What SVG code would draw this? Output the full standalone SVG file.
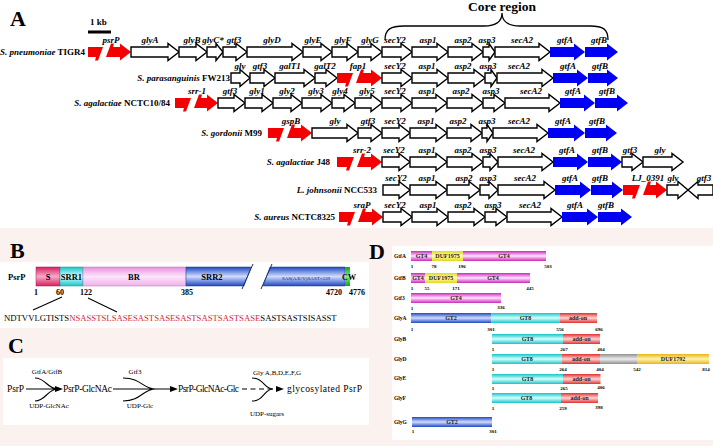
<svg xmlns="http://www.w3.org/2000/svg" width="713" height="446" viewBox="0 0 713 446">
<defs>
<linearGradient id="gMag" x1="0" y1="0" x2="0" y2="1"><stop offset="0" stop-color="#c82ab8"/><stop offset="0.35" stop-color="#f2a8ee"/><stop offset="0.5" stop-color="#fde6fb"/><stop offset="0.65" stop-color="#f2a8ee"/><stop offset="1" stop-color="#c82ab8"/></linearGradient>
<linearGradient id="gYel" x1="0" y1="0" x2="0" y2="1"><stop offset="0" stop-color="#e0d820"/><stop offset="0.5" stop-color="#ffffa8"/><stop offset="1" stop-color="#e0d820"/></linearGradient>
<linearGradient id="gBlu" x1="0" y1="0" x2="0" y2="1"><stop offset="0" stop-color="#1e48c0"/><stop offset="0.5" stop-color="#d0dcff"/><stop offset="1" stop-color="#1e48c0"/></linearGradient>
<linearGradient id="gCy" x1="0" y1="0" x2="0" y2="1"><stop offset="0" stop-color="#18c4c8"/><stop offset="0.5" stop-color="#d4ffff"/><stop offset="1" stop-color="#18c4c8"/></linearGradient>
<linearGradient id="gRed" x1="0" y1="0" x2="0" y2="1"><stop offset="0" stop-color="#e03030"/><stop offset="0.5" stop-color="#ffd4d4"/><stop offset="1" stop-color="#e03030"/></linearGradient>
<linearGradient id="gGry" x1="0" y1="0" x2="0" y2="1"><stop offset="0" stop-color="#909090"/><stop offset="0.5" stop-color="#ececec"/><stop offset="1" stop-color="#909090"/></linearGradient>
<linearGradient id="gGold" x1="0" y1="0" x2="0" y2="1"><stop offset="0" stop-color="#e8b418"/><stop offset="0.5" stop-color="#fff4b0"/><stop offset="1" stop-color="#e8b418"/></linearGradient>
<linearGradient id="gS" x1="0" y1="0" x2="0" y2="1"><stop offset="0" stop-color="#d82060"/><stop offset="0.5" stop-color="#f8a8c8"/><stop offset="1" stop-color="#d82060"/></linearGradient>
<linearGradient id="gBR" x1="0" y1="0" x2="0" y2="1"><stop offset="0" stop-color="#e890e0"/><stop offset="0.5" stop-color="#fde4fb"/><stop offset="1" stop-color="#f0b0ec"/></linearGradient>
<linearGradient id="gGrn" x1="0" y1="0" x2="0" y2="1"><stop offset="0" stop-color="#10a020"/><stop offset="0.5" stop-color="#80f080"/><stop offset="1" stop-color="#10a020"/></linearGradient>
</defs>
<style>
text{font-family:"Liberation Serif","Times New Roman",serif;fill:#000}
.pl{font-size:22px;font-weight:bold}
.sp{font-size:9px;font-weight:bold;text-anchor:end}
.it{font-style:italic}
.gl{font-size:9px;font-weight:bold;font-style:italic;text-anchor:middle}
.w{fill:#fff;stroke:#000;stroke-width:1.4}
.bl{fill:#0000f2}
.rd{fill:#f50000}
.bt{font-size:8.5px;font-weight:bold;text-anchor:middle}
.bn{font-size:8px;font-weight:bold;text-anchor:middle;fill:#000}
.ct{font-size:9.5px}
.cs{font-size:7px;text-anchor:middle}
.ln{fill:none;stroke:#000;stroke-width:1.1}
.dl{font-size:5.5px;font-weight:bold}
.dn{font-size:5px;font-weight:bold;text-anchor:middle}
.dt{font-size:6px;font-weight:bold;text-anchor:middle;fill:#222}
.sg{stroke-width:0.5}
</style>
<rect width="713" height="446" fill="#fff"/>
<rect y="228" width="713" height="218" fill="#fbf2f0"/>
<rect x="0" y="262" width="369" height="66" fill="#fff"/>
<rect x="3" y="358" width="366" height="67" fill="#fff"/>
<rect x="392" y="246" width="321" height="194" fill="#fff"/>

<!-- Panel A -->
<text class="pl" x="10" y="26">A</text>
<g id="scale"><text x="90" y="25" style="font-size:9px;font-weight:bold">1 kb</text><rect x="88" y="30.5" width="23" height="3" fill="#000"/></g>
<g id="core"><path class="ln" style="stroke-width:1.3" d="M385 40C385 29 391 26 404 26H484C496 26 502 21 502 13C502 21 508 26 520 26H590C603 26 608 29 608 40"/><text x="502" y="11" style="font-size:13.5px;font-weight:bold;text-anchor:middle">Core region</text></g>

<g id="row1" transform="translate(0,52)">
<text class="sp" x="85" y="3"><tspan class="it">S. pneumoniae</tspan> TIGR4</text>
<g id="r1-psrP"><path class="rd" d="M88 -5H103L98 8.5H95L96 5H88Z"/><path class="rd" d="M106 5L111 -8.5H114L113 -5H120V-8.5L131 0L120 8.5V5Z"/><text class="gl" x="111" y="-9">psrP</text></g>
<g id="r1-glyA"><path class="w" d="M131 -5H168V-8.5L179 0L168 8.5V5H131Z"/><text class="gl" x="150" y="-9">glyA</text></g>
<g id="r1-glyB"><path class="w" d="M179 -5H196V-8.5L207 0L196 8.5V5H179Z"/><text class="gl" x="192" y="-9">glyB</text></g>
<g id="r1-glyC"><path class="w" d="M207 -5H216V-8.5L223 0L216 8.5V5H207Z"/><text class="gl" x="213" y="-9">glyC*</text></g>
<g id="r1-gtf3"><path class="w" d="M223 -5H236V-8.5L247 0L236 8.5V5H223Z"/><text class="gl" x="234" y="-9">gtf3</text></g>
<g id="r1-glyD"><path class="w" d="M247 -5H292V-8.5L303 0L292 8.5V5H247Z"/><text class="gl" x="272" y="-9">glyD</text></g>
<g id="r1-glyE"><path class="w" d="M303 -5H321V-8.5L332 0L321 8.5V5H303Z"/><text class="gl" x="313" y="-9">glyE</text></g>
<g id="r1-glyF"><path class="w" d="M332 -5H347V-8.5L358 0L347 8.5V5H332Z"/><text class="gl" x="343" y="-9">glyF</text></g>
<g id="r1-glyG"><path class="w" d="M358 -5H371V-8.5L382 0L371 8.5V5H358Z"/><text class="gl" x="370" y="-9">glyG</text></g>
<g id="r1-secY2"><path class="w" d="M382 -5H401V-8.5L412 0L401 8.5V5H382Z"/><text class="gl" x="395" y="-9">secY2</text></g>
<g id="r1-asp1"><path class="w" d="M412 -5H437V-8.5L448 0L437 8.5V5H412Z"/><text class="gl" x="428" y="-9">asp1</text></g>
<g id="r1-asp2"><path class="w" d="M448 -5H472V-8.5L483 0L472 8.5V5H448Z"/><text class="gl" x="463" y="-9">asp2</text></g>
<g id="r1-asp3"><path class="w" d="M483 -5H489V-8.5L495 0L489 8.5V5H483Z"/><text class="gl" x="487" y="-9">asp3</text></g>
<g id="r1-secA2"><path class="w" d="M495 -5H539V-8.5L550 0L539 8.5V5H495Z"/><text class="gl" x="522" y="-9">secA2</text></g>
<g id="r1-gtfA"><path class="bl" d="M550 -5H574V-8.5L585 0L574 8.5V5H550Z"/><text class="gl" x="565" y="-9">gtfA</text></g>
<g id="r1-gtfB"><path class="bl" d="M585 -5H607V-8.5L618 0L607 8.5V5H585Z"/><text class="gl" x="599" y="-9">gtfB</text></g>
</g>

<g id="row2" transform="translate(0,78)">
<text class="sp" x="230" y="3"><tspan class="it">S. parasanguinis</tspan> FW213</text>
<g id="r2-gly"><path class="w" d="M231 -5H240V-8.5L250 0L240 8.5V5H231Z"/><text class="gl" x="240" y="-9">gly</text></g>
<g id="r2-gtf3"><path class="w" d="M250 -5H264V-8.5L275 0L264 8.5V5H250Z"/><text class="gl" x="260" y="-9">gtf3</text></g>
<g id="r2-galT1"><path class="w" d="M275 -5H304V-8.5L315 0L304 8.5V5H275Z"/><text class="gl" x="290" y="-9">galT1</text></g>
<g id="r2-galT2"><path class="w" d="M315 -5H326V-8.5L337 0L326 8.5V5H315Z"/><text class="gl" x="325" y="-9">galT2</text></g>
<g id="r2-fap1"><path class="rd" d="M337 -5H353L348 8.5H345L346 5H337Z"/><path class="rd" d="M356 5L361 -8.5H364L363 -5H371V-8.5L382 0L371 8.5V5Z"/><text class="gl" x="358" y="-9">fap1</text></g>
<g id="r2-secY2"><path class="w" d="M382 -5H401V-8.5L412 0L401 8.5V5H382Z"/><text class="gl" x="395" y="-9">secY2</text></g>
<g id="r2-asp1"><path class="w" d="M412 -5H437V-8.5L448 0L437 8.5V5H412Z"/><text class="gl" x="427" y="-9">asp1</text></g>
<g id="r2-asp2"><path class="w" d="M448 -5H474V-8.5L485 0L474 8.5V5H448Z"/><text class="gl" x="463" y="-9">asp2</text></g>
<g id="r2-asp3"><path class="w" d="M485 -5H491V-8.5L497 0L491 8.5V5H485Z"/><text class="gl" x="488" y="-9">asp3</text></g>
<g id="r2-secA2"><path class="w" d="M497 -5H542V-8.5L553 0L542 8.5V5H497Z"/><text class="gl" x="519" y="-9">secA2</text></g>
<g id="r2-gtfA"><path class="bl" d="M553 -5H577V-8.5L588 0L577 8.5V5H553Z"/><text class="gl" x="568" y="-9">gtfA</text></g>
<g id="r2-gtfB"><path class="bl" d="M588 -5H607V-8.5L618 0L607 8.5V5H588Z"/><text class="gl" x="600" y="-9">gtfB</text></g>
</g>

<g id="row3" transform="translate(0,103)">
<text class="sp" x="170" y="3"><tspan class="it">S. agalactiae</tspan> NCTC10/84</text>
<g id="r3-srr1"><path class="rd" d="M175 -5H191L186 8.5H183L184 5H175Z"/><path class="rd" d="M194 5L199 -8.5H202L201 -5H207V-8.5L218 0L207 8.5V5Z"/><text class="gl" x="197" y="-9">srr-1</text></g>
<g id="r3-gtf3"><path class="w" d="M218 -5H234V-8.5L245 0L234 8.5V5H218Z"/><text class="gl" x="230" y="-9">gtf3</text></g>
<g id="r3-gly1"><path class="w" d="M245 -5H262V-8.5L273 0L262 8.5V5H245Z"/><text class="gl" x="257" y="-9">gly1</text></g>
<g id="r3-gly2"><path class="w" d="M273 -5H291V-8.5L302 0L291 8.5V5H273Z"/><text class="gl" x="287" y="-9">gly2</text></g>
<g id="r3-gly3"><path class="w" d="M302 -5H321V-8.5L332 0L321 8.5V5H302Z"/><text class="gl" x="316" y="-9">gly3</text></g>
<g id="r3-gly4"><path class="w" d="M332 -5H344V-8.5L355 0L344 8.5V5H332Z"/><text class="gl" x="340" y="-9">gly4</text></g>
<g id="r3-gly5"><path class="w" d="M355 -5H371V-8.5L382 0L371 8.5V5H355Z"/><text class="gl" x="367" y="-9">gly5</text></g>
<g id="r3-secY2"><path class="w" d="M382 -5H401V-8.5L412 0L401 8.5V5H382Z"/><text class="gl" x="395" y="-9">secY2</text></g>
<g id="r3-asp1"><path class="w" d="M412 -5H436V-8.5L447 0L436 8.5V5H412Z"/><text class="gl" x="427" y="-9">asp1</text></g>
<g id="r3-asp2"><path class="w" d="M447 -5H472V-8.5L483 0L472 8.5V5H447Z"/><text class="gl" x="461" y="-9">asp2</text></g>
<g id="r3-asp3"><path class="w" d="M483 -5H494V-8.5L505 0L494 8.5V5H483Z"/><text class="gl" x="491" y="-9">asp3</text></g>
<g id="r3-secA2"><path class="w" d="M505 -5H549V-8.5L560 0L549 8.5V5H505Z"/><text class="gl" x="531" y="-9">secA2</text></g>
<g id="r3-gtfA"><path class="bl" d="M560 -5H584V-8.5L595 0L584 8.5V5H560Z"/><text class="gl" x="573" y="-9">gtfA</text></g>
<g id="r3-gtfB"><path class="bl" d="M595 -5H617V-8.5L628 0L617 8.5V5H595Z"/><text class="gl" x="607" y="-9">gtfB</text></g>
</g>

<g id="row4" transform="translate(0,133)">
<text class="sp" x="262" y="3"><tspan class="it">S. gordonii</tspan> M99</text>
<g id="r4-gspB"><path class="rd" d="M268 -5H284L279 8.5H276L277 5H268Z"/><path class="rd" d="M287 5L292 -8.5H295L294 -5H301V-8.5L312 0L301 8.5V5Z"/><text class="gl" x="291" y="-9">gspB</text></g>
<g id="r4-gly"><path class="w" d="M312 -5H347V-8.5L358 0L347 8.5V5H312Z"/><text class="gl" x="335" y="-9">gly</text></g>
<g id="r4-gtf3"><path class="w" d="M358 -5H371V-8.5L382 0L371 8.5V5H358Z"/><text class="gl" x="368" y="-9">gtf3</text></g>
<g id="r4-secY2"><path class="w" d="M382 -5H399V-8.5L410 0L399 8.5V5H382Z"/><text class="gl" x="395" y="-9">secY2</text></g>
<g id="r4-asp1"><path class="w" d="M410 -5H436V-8.5L447 0L436 8.5V5H410Z"/><text class="gl" x="426" y="-9">asp1</text></g>
<g id="r4-asp2"><path class="w" d="M447 -5H471V-8.5L482 0L471 8.5V5H447Z"/><text class="gl" x="458" y="-9">asp2</text></g>
<g id="r4-asp3"><path class="w" d="M482 -5H487V-8.5L493 0L487 8.5V5H482Z"/><text class="gl" x="487" y="-9">asp3</text></g>
<g id="r4-secA2"><path class="w" d="M493 -5H537V-8.5L548 0L537 8.5V5H493Z"/><text class="gl" x="519" y="-9">secA2</text></g>
<g id="r4-gtfA"><path class="bl" d="M548 -5H574V-8.5L585 0L574 8.5V5H548Z"/><text class="gl" x="563" y="-9">gtfA</text></g>
<g id="r4-gtfB"><path class="bl" d="M585 -5H606V-8.5L617 0L606 8.5V5H585Z"/><text class="gl" x="597" y="-9">gtfB</text></g>
</g>

<g id="row5" transform="translate(0,162)">
<text class="sp" x="330" y="3"><tspan class="it">S. agalactiae</tspan> J48</text>
<g id="r5-srr2"><path class="rd" d="M337 -5H354L349 8.5H346L347 5H337Z"/><path class="rd" d="M357 5L362 -8.5H365L364 -5H371V-8.5L382 0L371 8.5V5Z"/><text class="gl" x="362" y="-9">srr-2</text></g>
<g id="r5-secY2"><path class="w" d="M382 -5H399V-8.5L410 0L399 8.5V5H382Z"/><text class="gl" x="394" y="-9">secY2</text></g>
<g id="r5-asp1"><path class="w" d="M410 -5H436V-8.5L447 0L436 8.5V5H410Z"/><text class="gl" x="427" y="-9">asp1</text></g>
<g id="r5-asp2"><path class="w" d="M447 -5H472V-8.5L483 0L472 8.5V5H447Z"/><text class="gl" x="463" y="-9">asp2</text></g>
<g id="r5-asp3"><path class="w" d="M483 -5H490V-8.5L498 0L490 8.5V5H483Z"/><text class="gl" x="488" y="-9">asp3</text></g>
<g id="r5-secA2"><path class="w" d="M498 -5H542V-8.5L553 0L542 8.5V5H498Z"/><text class="gl" x="524" y="-9">secA2</text></g>
<g id="r5-gtfA"><path class="bl" d="M553 -5H577V-8.5L588 0L577 8.5V5H553Z"/><text class="gl" x="567" y="-9">gtfA</text></g>
<g id="r5-gtfB"><path class="bl" d="M588 -5H611V-8.5L622 0L611 8.5V5H588Z"/><text class="gl" x="600" y="-9">gtfB</text></g>
<g id="r5-gtf3"><path class="w" d="M622 -5H632V-8.5L643 0L632 8.5V5H622Z"/><text class="gl" x="630" y="-9">gtf3</text></g>
<g id="r5-gly"><path class="w" d="M643 -5H672V-8.5L683 0L672 8.5V5H643Z"/><text class="gl" x="660" y="-9">gly</text></g>
</g>

<g id="row6" transform="translate(0,190)">
<text class="sp" x="377" y="3"><tspan class="it">L. johnsonii</tspan> NCC533</text>
<g id="r6-secY2"><path class="w" d="M383 -5H399V-8.5L410 0L399 8.5V5H383Z"/><text class="gl" x="396" y="-9">secY2</text></g>
<g id="r6-asp1"><path class="w" d="M410 -5H436V-8.5L447 0L436 8.5V5H410Z"/><text class="gl" x="427" y="-9">asp1</text></g>
<g id="r6-asp2"><path class="w" d="M447 -5H469V-8.5L480 0L469 8.5V5H447Z"/><text class="gl" x="464" y="-9">asp2</text></g>
<g id="r6-asp3"><path class="w" d="M480 -5H489V-8.5L498 0L489 8.5V5H480Z"/><text class="gl" x="488" y="-9">asp3</text></g>
<g id="r6-secA2"><path class="w" d="M498 -5H544V-8.5L555 0L544 8.5V5H498Z"/><text class="gl" x="525" y="-9">secA2</text></g>
<g id="r6-gtfA"><path class="bl" d="M555 -5H580V-8.5L591 0L580 8.5V5H555Z"/><text class="gl" x="570" y="-9">gtfA</text></g>
<g id="r6-gtfB"><path class="bl" d="M591 -5H612V-8.5L623 0L612 8.5V5H591Z"/><text class="gl" x="600" y="-9">gtfB</text></g>
<g id="r6-LJ0391"><path class="rd" d="M623 -5H640L635 8.5H632L633 5H623Z"/><path class="rd" d="M643 5L648 -8.5H651L650 -5H656V-8.5L667 0L656 8.5V5Z"/><text class="gl" x="648" y="-9">LJ_0391</text></g>
<g id="r6-gly"><path class="w" d="M667 -5H678V-8.5L688 0L678 8.5V5H667Z"/><text class="gl" x="673" y="-9">gly</text></g>
<g id="r6-gtf3"><path class="w" d="M713 -5H698V-8.5L688 0L698 8.5V5H713Z"/><text class="gl" x="704" y="-9">gtf3</text></g>
</g>

<g id="row7" transform="translate(0,217)">
<text class="sp" x="335" y="3"><tspan class="it">S. aureus</tspan> NCTC8325</text>
<g id="r7-sraP"><path class="rd" d="M339 -5H355L350 8.5H347L348 5H339Z"/><path class="rd" d="M358 5L363 -8.5H366L365 -5H372V-8.5L383 0L372 8.5V5Z"/><text class="gl" x="362" y="-9">sraP</text></g>
<g id="r7-secY2"><path class="w" d="M383 -5H401V-8.5L412 0L401 8.5V5H383Z"/><text class="gl" x="395" y="-9">secY2</text></g>
<g id="r7-asp1"><path class="w" d="M412 -5H437V-8.5L448 0L437 8.5V5H412Z"/><text class="gl" x="428" y="-9">asp1</text></g>
<g id="r7-asp2"><path class="w" d="M448 -5H474V-8.5L485 0L474 8.5V5H448Z"/><text class="gl" x="463" y="-9">asp2</text></g>
<g id="r7-asp3"><path class="w" d="M485 -5H496V-8.5L507 0L496 8.5V5H485Z"/><text class="gl" x="493" y="-9">asp3</text></g>
<g id="r7-secA2"><path class="w" d="M507 -5H551V-8.5L562 0L551 8.5V5H507Z"/><text class="gl" x="530" y="-9">secA2</text></g>
<g id="r7-gtfA"><path class="bl" d="M562 -5H587V-8.5L598 0L587 8.5V5H562Z"/><text class="gl" x="575" y="-9">gtfA</text></g>
<g id="r7-gtfB"><path class="bl" d="M598 -5H621V-8.5L632 0L621 8.5V5H598Z"/><text class="gl" x="606" y="-9">gtfB</text></g>
</g>

<!-- Panel B -->
<text class="pl" x="10" y="258">B</text>
<g id="psrP-bar">
<text x="8" y="280" style="font-size:8.5px;font-weight:bold">PsrP</text>
<rect x="36" y="267" width="24" height="19" fill="url(#gS)" stroke="#a01848" class="sg"/>
<rect x="60" y="267" width="23" height="19" fill="url(#gCy)" stroke="#109898" class="sg"/>
<rect x="83" y="267" width="103" height="19" fill="url(#gBR)" stroke="#c070c0" class="sg"/>
<path d="M186 267H251L244 286H186Z" fill="url(#gBlu)" stroke="#1a3a9a" class="sg"/>
<path d="M270 267H345V286H263Z" fill="url(#gBlu)" stroke="#1a3a9a" class="sg"/>
<rect x="345" y="267" width="5" height="19" fill="url(#gGrn)"/>
<path class="ln" style="stroke:#1a2a6a;stroke-width:1" d="M242 289L253 264M261 289L272 264"/>
<text class="bt" x="48" y="280">S</text>
<text class="bt" x="71.5" y="280">SRR1</text>
<text class="bt" x="134" y="280">BR</text>
<text class="bt" x="212" y="280">SRR2</text>
<text x="306" y="279.5" style="font-size:5px;text-anchor:middle;fill:#1a2a70">SAS(A/E/V)SAST×539</text>
<text class="bt" x="349" y="280" style="font-size:8px">CW</text>
<g fill="#000">
<text class="bn" x="36" y="295">1</text>
<text class="bn" x="60" y="295">60</text>
<text class="bn" x="86" y="295">122</text>
<text class="bn" x="187" y="295">385</text>
<text class="bn" x="334" y="295">4720</text>
<text class="bn" x="357" y="295">4776</text>
</g>
</g>
<g id="srr1-seq">
<path class="ln" d="M62 297L33 310M88 298L117 312"/>
<text x="4" y="321" style="font-size:8.7px">NDTVVLGTISTS<tspan fill="#d42a3a">NSASSTSLSASESASTSASESASTSASTSASTSASE</tspan>SASTSASTSISASST</text>
</g>

<!-- Panel C -->
<text class="pl" x="8" y="353">C</text>
<g id="c-psrP"><text class="ct" x="7" y="392" textLength="17">PsrP</text></g>
<g id="c-psrPGlcNAc"><text class="ct" x="63" y="392" textLength="49">PsrP-GlcNAc</text></g>
<g id="c-psrPGlcNAcGlc"><text class="ct" x="178" y="392" textLength="61">PsrP-GlcNAc-Glc</text></g>
<g id="c-glyco"><text class="ct" x="287" y="392" textLength="75">glycosylated PsrP</text></g>
<g id="c-step1">
<path class="ln" d="M26 389H57M35 378C46 378 47 389 58 389M35 401C46 401 47 389 58 389"/>
<path d="M63 389L55 386V392Z"/>
<text class="cs" x="47" y="374">GtfA/GtfB</text>
<text class="cs" x="49" y="408">UDP-GlcNAc</text>
</g>
<g id="c-step2">
<path class="ln" d="M113 389H172M123 378C142 378 142 389 156 389M123 401C142 401 142 389 156 389"/>
<path d="M178 389L170 386V392Z"/>
<text class="cs" x="135" y="374">Gtf3</text>
<text class="cs" x="140" y="408">UDP-Glc</text>
</g>
<g id="c-step3">
<path class="ln" d="M242 389H278" stroke-dasharray="5 3.5"/>
<path class="ln" d="M252 378C264 378 264 389 273 389M252 401C264 401 264 389 273 389"/>
<path d="M284 389L276 386V392Z"/>
<text class="cs" x="277" y="375">Gly A,B,D,E,F,G</text>
<text class="cs" x="267" y="416">UDP-sugars</text>
</g>

<!-- Panel D -->
<text class="pl" x="369" y="259">D</text>
<g id="d-GtfA">
<text class="dl" x="394" y="258">GtfA</text>
<rect x="411" y="251" width="21" height="10" fill="url(#gMag)"/><rect x="432" y="251" width="31" height="10" fill="url(#gYel)"/><rect x="463" y="251" width="83" height="10" fill="url(#gMag)"/>
<text class="dt" x="421.5" y="258">GT4</text><text class="dt" x="447.5" y="258">DUF1975</text><text class="dt" x="504" y="258">GT4</text>
<text class="dn" x="412" y="268">1</text><text class="dn" x="434" y="268">78</text><text class="dn" x="462" y="268">196</text><text class="dn" x="548" y="268">503</text>
</g>
<g id="d-GtfB">
<text class="dl" x="394" y="280">GtfB</text>
<rect x="411" y="273" width="14" height="10" fill="url(#gMag)"/><rect x="425" y="273" width="32" height="10" fill="url(#gYel)"/><rect x="457" y="273" width="73" height="10" fill="url(#gMag)"/>
<text class="dt" x="418" y="280">GT4</text><text class="dt" x="441" y="280">DUF1975</text><text class="dt" x="493" y="280">GT4</text>
<text class="dn" x="412" y="290">1</text><text class="dn" x="427" y="290">55</text><text class="dn" x="456" y="290">171</text><text class="dn" x="530" y="290">445</text>
</g>
<g id="d-Gtf3">
<text class="dl" x="394" y="300">Gtf3</text>
<rect x="411" y="293" width="90" height="10" fill="url(#gMag)"/>
<text class="dt" x="456" y="300">GT4</text>
<text class="dn" x="412" y="310">1</text><text class="dn" x="501" y="309">336</text>
</g>
<g id="d-GlyA">
<text class="dl" x="394" y="320">GlyA</text>
<rect x="411" y="313" width="80.5" height="10" fill="url(#gBlu)"/><rect x="491.5" y="313" width="68" height="10" fill="url(#gCy)"/><rect x="559.5" y="313" width="37.5" height="10" fill="url(#gRed)"/>
<text class="dt" x="451" y="320">GT2</text><text class="dt" x="525.5" y="320">GT8</text><text class="dt" x="578" y="320">add-on</text>
<text class="dn" x="412" y="331">1</text><text class="dn" x="491" y="331">301</text><text class="dn" x="560" y="331">556</text><text class="dn" x="599" y="331">696</text>
</g>
<g id="d-GlyB">
<text class="dl" x="394" y="341">GlyB</text>
<rect x="492" y="334" width="71" height="10" fill="url(#gCy)"/><rect x="563" y="334" width="37" height="10" fill="url(#gRed)"/>
<text class="dt" x="527.5" y="341">GT8</text><text class="dt" x="581.5" y="341">add-on</text>
<text class="dn" x="493" y="351">1</text><text class="dn" x="564" y="351">267</text><text class="dn" x="601" y="351">404</text>
</g>
<g id="d-GlyD">
<text class="dl" x="394" y="361">GlyD</text>
<rect x="492" y="354" width="70" height="10" fill="url(#gCy)"/><rect x="562" y="354" width="38" height="10" fill="url(#gRed)"/><rect x="600" y="354" width="37" height="10" fill="url(#gGry)"/><rect x="637" y="354" width="72" height="10" fill="url(#gGold)"/>
<text class="dt" x="527" y="361">GT8</text><text class="dt" x="581" y="361">add-on</text><text class="dt" x="673" y="361">DUF1792</text>
<text class="dn" x="493" y="371">1</text><text class="dn" x="563" y="371">264</text><text class="dn" x="600" y="371">404</text><text class="dn" x="637" y="371">542</text><text class="dn" x="706" y="371">814</text>
</g>
<g id="d-GlyE">
<text class="dl" x="394" y="380">GlyE</text>
<rect x="492" y="374" width="71" height="10" fill="url(#gCy)"/><rect x="563" y="374" width="37.5" height="10" fill="url(#gRed)"/>
<text class="dt" x="527.5" y="381">GT8</text><text class="dt" x="581.5" y="381">add-on</text>
<text class="dn" x="493" y="390">1</text><text class="dn" x="564" y="390">265</text><text class="dn" x="601" y="389">406</text>
</g>
<g id="d-GlyF">
<text class="dl" x="394" y="400">GlyF</text>
<rect x="492" y="393" width="69" height="10" fill="url(#gCy)"/><rect x="561" y="393" width="37" height="10" fill="url(#gRed)"/>
<text class="dt" x="526.5" y="400">GT8</text><text class="dt" x="579.5" y="400">add-on</text>
<text class="dn" x="493" y="410">1</text><text class="dn" x="563" y="410">259</text><text class="dn" x="599" y="409">398</text>
</g>
<g id="d-GlyG">
<text class="dl" x="394" y="424">GlyG</text>
<rect x="412" y="417" width="80" height="10" fill="url(#gBlu)"/>
<text class="dt" x="452" y="424">GT2</text>
<text class="dn" x="413" y="433">1</text><text class="dn" x="493" y="433">301</text>
</g>
</svg>
